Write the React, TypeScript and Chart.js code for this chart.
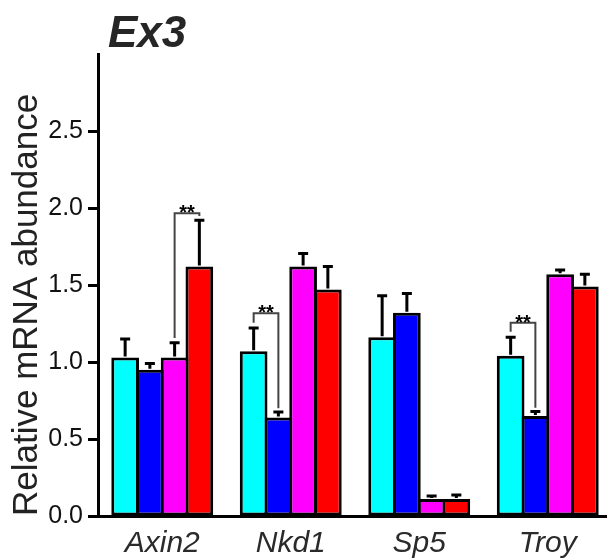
import React, { useEffect, useRef } from 'react';
import { Chart, registerables } from 'chart.js';

Chart.register(...registerables);

const chartTitle = 'Ex3';
const yAxisTitle = 'Relative mRNA abundance';
const categories = ['Axin2', 'Nkd1', 'Sp5', 'Troy'];
const yTicks = [0, 0.5, 1.0, 1.5, 2.0, 2.5];

const cyanValues = [1.03, 1.07, 1.16, 1.04];
const cyanErrors = [0.12, 0.15, 0.27, 0.12];
const blueValues = [0.95, 0.64, 1.32, 0.65];
const blueErrors = [0.04, 0.035, 0.125, 0.028];
const magentaValues = [1.03, 1.62, 0.11, 1.57];
const magentaErrors = [0.095, 0.085, 0.02, 0.028];
const redValues = [1.62, 1.47, 0.11, 1.49];
const redErrors = [0.30, 0.15, 0.027, 0.08];

// significance brackets: category index, left dataset, right dataset, top, left leg bottom, right leg bottom
const bracketCategory = [0, 1, 3];
const bracketLeft = [2, 0, 0];
const bracketRight = [3, 1, 1];
const bracketTop = [1.966, 1.316, 1.255];
const bracketLeftBottom = [1.156, 1.255, 1.197];
const bracketRightBottom = [1.948, 0.70, 0.703];
const bracketLabel = ['**', '**', '**'];

const errorSets = [cyanErrors, blueErrors, magentaErrors, redErrors];

const errorBarPlugin = {
  id: 'errorBars',
  afterDatasetsDraw(chart: any) {
    const ctx = chart.ctx;
    const y = chart.scales.y;
    ctx.save();
    ctx.strokeStyle = '#000';
    ctx.lineWidth = 3;
    chart.data.datasets.forEach((ds: any, di: number) => {
      const meta = chart.getDatasetMeta(di);
      meta.data.forEach((bar: any, i: number) => {
        const v = ds.data[i];
        const e = errorSets[di][i];
        const top = y.getPixelForValue(v + e);
        const x = bar.x;
        ctx.beginPath();
        ctx.moveTo(x, bar.y - 1);
        ctx.lineTo(x, top);
        ctx.moveTo(x - 5, top);
        ctx.lineTo(x + 5, top);
        ctx.stroke();
      });
    });
    // brackets
    ctx.strokeStyle = '#444';
    ctx.lineWidth = 2;
    ctx.fillStyle = '#000';
    ctx.font = 'bold 20px "Liberation Sans", Arial, sans-serif';
    ctx.textAlign = 'center';
    ctx.textBaseline = 'alphabetic';
    bracketCategory.forEach((c, k) => {
      const xl = chart.getDatasetMeta(bracketLeft[k]).data[c].x;
      const xr = chart.getDatasetMeta(bracketRight[k]).data[c].x;
      const yt = y.getPixelForValue(bracketTop[k]);
      const yl = y.getPixelForValue(bracketLeftBottom[k]);
      const yr = y.getPixelForValue(bracketRightBottom[k]);
      ctx.beginPath();
      ctx.moveTo(xl, yl);
      ctx.lineTo(xl, yt);
      ctx.lineTo(xr, yt);
      ctx.lineTo(xr, yr);
      ctx.stroke();
      ctx.fillText(bracketLabel[k], (xl + xr) / 2, yt + 6);
    });
    ctx.restore();
  },
};

const titlePlugin = {
  id: 'cornerTitle',
  afterDraw(chart: any) {
    const ctx = chart.ctx;
    const area = chart.chartArea;
    ctx.save();
    ctx.fillStyle = '#262626';
    ctx.font = 'italic bold 44px "Liberation Sans", Arial, sans-serif';
    ctx.textAlign = 'left';
    ctx.textBaseline = 'alphabetic';
    ctx.fillText(chartTitle, area.left + 10, area.top - 7);
    ctx.restore();
  },
};

export default function App() {
  const ref = useRef<HTMLCanvasElement | null>(null);
  useEffect(() => {
    if (!ref.current) return;
    const mk = (label: string, data: number[], color: string) => ({
      label,
      data,
      backgroundColor: color,
      borderColor: '#000',
      borderWidth: 3,
      borderSkipped: false,
      barPercentage: 1.12,
      categoryPercentage: 0.77,
    });
    const chart = new Chart(ref.current, {
      type: 'bar',
      data: {
        labels: categories,
        datasets: [
          mk('cyan', cyanValues, '#00FFFF'),
          mk('blue', blueValues, '#0000FF'),
          mk('magenta', magentaValues, '#FF00FF'),
          mk('red', redValues, '#FF0000'),
        ],
      },
      options: {
        responsive: false,
        animation: false,
        layout: { padding: { top: 54, right: 0, bottom: 0, left: 0 } },
        plugins: {
          legend: { display: false },
          tooltip: { enabled: false },
          title: { display: false },
        },
        scales: {
          x: {
            grid: { display: false, drawTicks: false },
            border: { display: true, color: '#000', width: 3 },
            ticks: {
              color: '#2a2a2a',
              padding: 10,
              font: { family: '"Liberation Sans", Arial, sans-serif', size: 30, style: 'italic' },
            },
            afterFit: (s: any) => { s.height = 42; },
          },
          y: {
            min: 0,
            max: 3,
            afterBuildTicks: (s: any) => {
              s.ticks = yTicks.map((v) => ({ value: v }));
            },
            grid: { drawOnChartArea: false, drawTicks: true, tickLength: 10, tickWidth: 3, tickColor: '#000' },
            border: { display: true, color: '#000', width: 3 },
            ticks: {
              color: '#111',
              padding: 5,
              font: { family: '"Liberation Sans", Arial, sans-serif', size: 25 },
              callback: (v: any) => Number(v).toFixed(1),
            },
            title: {
              display: true,
              text: yAxisTitle,
              align: 'start',
              color: '#222',
              padding: { top: 6, bottom: 0 },
              font: { family: '"Liberation Sans", Arial, sans-serif', size: 35 },
            },
            afterFit: (s: any) => { s.width = 98; },
          },
        },
      },
      plugins: [errorBarPlugin, titlePlugin],
    } as any);
    return () => chart.destroy();
  }, []);
  return (
    <div style={{ position: 'fixed', left: 0, top: 0, width: 607, height: 558, overflow: 'hidden', background: '#fff' }}>
      <canvas ref={ref} width={612} height={558} style={{ width: 612, height: 558, display: 'block' }} />
    </div>
  );
}
